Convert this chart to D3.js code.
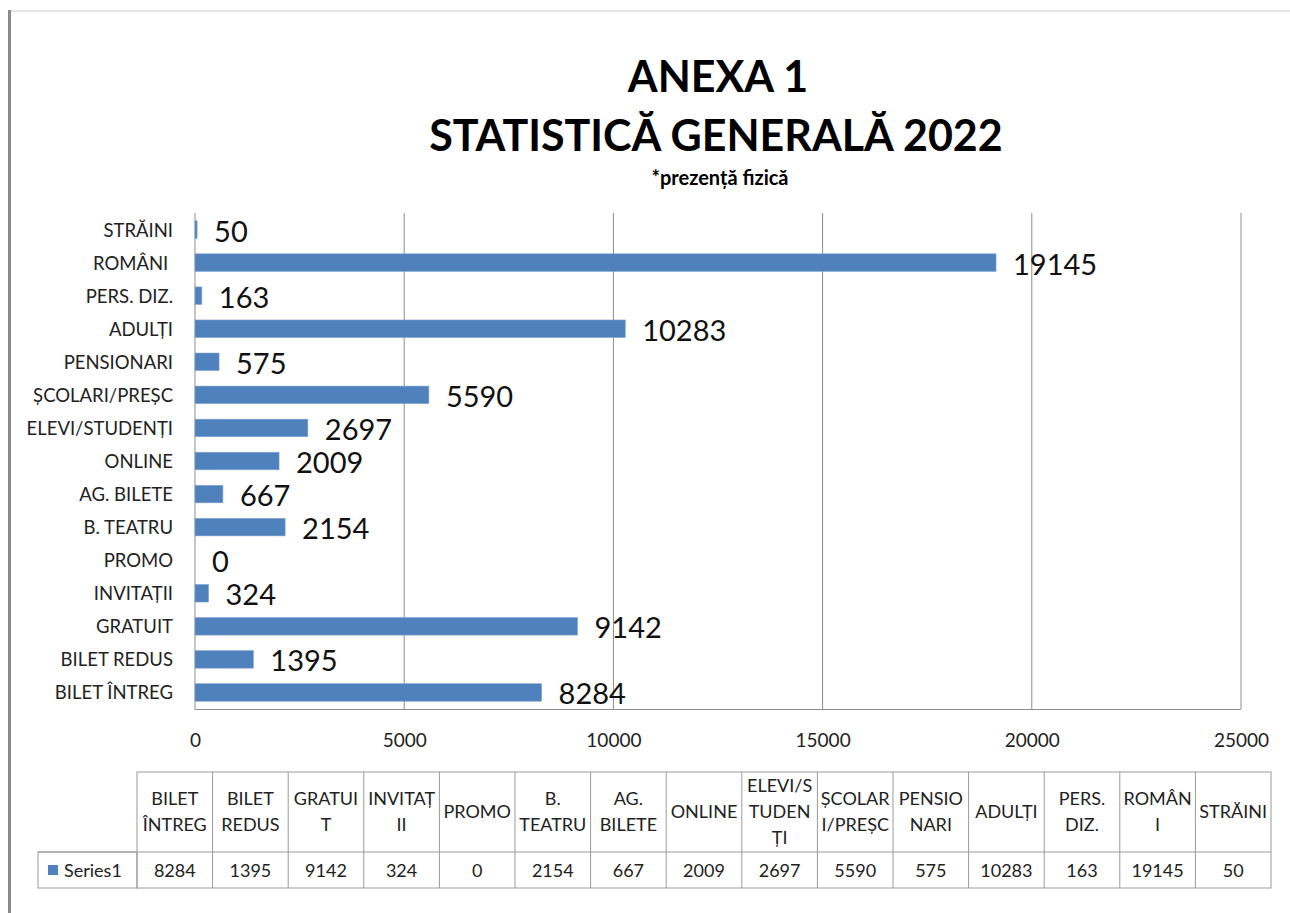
<!DOCTYPE html>
<html>
<head>
<meta charset="utf-8">
<script src="https://cdn.jsdelivr.net/npm/d3@7"></script>
<style>
  body { margin: 0; background: #fff; }
  svg { display: block; }
</style>
</head>
<body>
<svg id="svgContenedor" width="1290" height="913"></svg>
<script>
// categories, bottom to top in the chart (same order as table columns)
var categorii = ["BILET ÎNTREG", "BILET REDUS", "GRATUIT", "INVITAȚII", "PROMO", "B. TEATRU",
  "AG. BILETE", "ONLINE", "ELEVI/STUDENȚI", "ȘCOLARI/PREȘC", "PENSIONARI", "ADULȚI",
  "PERS. DIZ.", "ROMÂNI ", "STRĂINI"];
var valori = [8284, 1395, 9142, 324, 0, 2154, 667, 2009, 2697, 5590, 575, 10283, 163, 19145, 50];
var antetTabel = ["BILET\nÎNTREG", "BILET\nREDUS", "GRATUI\nT", "INVITAȚ\nII", "PROMO", "B.\nTEATRU",
  "AG.\nBILETE", "ONLINE", "ELEVI/S\nTUDEN\nȚI", "ȘCOLAR\nI/PREȘC", "PENSIO\nNARI", "ADULȚI",
  "PERS.\nDIZ.", "ROMÂN\nI", "STRĂINI"];
var ticks = [0, 5000, 10000, 15000, 20000, 25000];
var numeSerie = "Series1";

var font = "Lato, 'Open Sans', sans-serif";
var albastru = "#4f81bd";
var svg = d3.select("#svgContenedor");

// chenar pagina
svg.append("line").attr("x1", 8).attr("x2", 1290).attr("y1", 11).attr("y2", 11)
  .attr("stroke", "#dcdcdc").attr("stroke-width", 1.5);
svg.append("line").attr("x1", 9.5).attr("x2", 9.5).attr("y1", 10).attr("y2", 913)
  .attr("stroke", "#8a8a8a").attr("stroke-width", 3);

// titlu
svg.append("text").attr("x", 718).attr("y", 92).attr("text-anchor", "middle")
  .attr("font-family", font).attr("font-weight", "bold").attr("font-size", 43)
  .text("ANEXA 1");
svg.append("text").attr("x", 716).attr("y", 151).attr("text-anchor", "middle")
  .attr("font-family", font).attr("font-weight", "bold").attr("font-size", 43)
  .text("STATISTICĂ GENERALĂ 2022");
svg.append("text").attr("x", 720).attr("y", 185).attr("text-anchor", "middle")
  .attr("font-family", font).attr("font-weight", "bold").attr("font-size", 20)
  .text("*prezență fizică");

// scale
var x = d3.scaleLinear().domain([0, 25000]).range([195, 1241]);
var y = d3.scaleBand().domain(categorii.slice().reverse()).range([213, 709])
  .paddingInner(0.47).paddingOuter(0.235);

var g = svg.append("g");

// grila
g.selectAll("line.grid").data(ticks.slice(1)).enter().append("line")
  .attr("class", "grid")
  .attr("x1", function (d) { return x(d); }).attr("x2", function (d) { return x(d); })
  .attr("y1", 213).attr("y2", 709)
  .attr("stroke", "#8c8c8c").attr("stroke-width", 1);

// axe
g.append("line").attr("x1", x(0)).attr("x2", x(0)).attr("y1", 213).attr("y2", 709.5)
  .attr("stroke", "#8c8c8c");
g.append("line").attr("x1", x(0)).attr("x2", x(25000)).attr("y1", 709.5).attr("y2", 709.5)
  .attr("stroke", "#8c8c8c");

var axaX = d3.axisBottom(x).tickValues(ticks).tickSize(0).tickPadding(0).tickFormat(d3.format("d"));
var gx = g.append("g").attr("transform", "translate(0,733)").call(axaX);
gx.select(".domain").remove();
gx.selectAll("text").attr("font-family", font).attr("font-size", 19).attr("fill", "#222");

var axaY = d3.axisLeft(y).tickSize(0).tickPadding(22);
var gy = g.append("g").attr("transform", "translate(195,0)").call(axaY);
gy.select(".domain").remove();
gy.selectAll("text").attr("font-family", font).attr("font-size", 18.5).attr("fill", "#222")
  .attr("dy", "0.38em").style("white-space", "pre");

// bare
g.selectAll("rect.bar").data(valori).enter().append("rect")
  .attr("class", "bar")
  .attr("x", x(0))
  .attr("y", function (d, i) { return y(categorii[i]); })
  .attr("width", function (d) { return x(d) - x(0); })
  .attr("height", y.bandwidth())
  .attr("fill", albastru)
  .attr("stroke", "#7fa3d1").attr("stroke-width", 0.6);

g.selectAll("text.val").data(valori).enter().append("text")
  .attr("class", "val")
  .attr("x", function (d) { return x(d) + 17; })
  .attr("y", function (d, i) { return y(categorii[i]) + y.bandwidth() / 2 + 12; })
  .attr("font-family", font).attr("font-size", 29).attr("fill", "#111")
  .text(function (d) { return d; });

// tabel de date
var colX = d3.scaleBand().domain(categorii).range([137, 1271]);
var tabel = svg.append("g");
var linie = "#9a9a9a";

tabel.append("rect").attr("x", 137).attr("y", 772).attr("width", 1134).attr("height", 116)
  .attr("fill", "none").attr("stroke", linie);
tabel.append("rect").attr("x", 38).attr("y", 852).attr("width", 99).attr("height", 36)
  .attr("fill", "none").attr("stroke", linie);
tabel.append("line").attr("x1", 38).attr("x2", 1271).attr("y1", 852).attr("y2", 852)
  .attr("stroke", linie);
tabel.selectAll("line.col").data(categorii.slice(1)).enter().append("line")
  .attr("class", "col")
  .attr("x1", function (d) { return colX(d); }).attr("x2", function (d) { return colX(d); })
  .attr("y1", 772).attr("y2", 888).attr("stroke", linie);

tabel.selectAll("text.antet").data(antetTabel).enter().append("text")
  .attr("class", "antet")
  .attr("font-family", font).attr("font-size", 18).attr("fill", "#222")
  .attr("text-anchor", "middle")
  .each(function (d, i) {
    var randuri = d.split("\n");
    var cx = colX(categorii[i]) + colX.bandwidth() / 2;
    var y0 = 812 - (randuri.length - 1) * 26 / 2 + 6;
    var t = d3.select(this);
    randuri.forEach(function (r, k) {
      t.append("tspan").attr("x", cx).attr("y", y0 + k * 26).text(r);
    });
  });

tabel.selectAll("text.valTab").data(valori).enter().append("text")
  .attr("class", "valTab")
  .attr("x", function (d, i) { return colX(categorii[i]) + colX.bandwidth() / 2; })
  .attr("y", 877)
  .attr("font-family", font).attr("font-size", 18).attr("fill", "#222")
  .attr("text-anchor", "middle")
  .text(function (d) { return d; });

tabel.append("rect").attr("x", 48).attr("y", 865).attr("width", 10).attr("height", 10)
  .attr("fill", albastru);
tabel.append("text").attr("x", 64).attr("y", 877)
  .attr("font-family", font).attr("font-size", 18).attr("fill", "#222")
  .text(numeSerie);
</script>
</body>
</html>
